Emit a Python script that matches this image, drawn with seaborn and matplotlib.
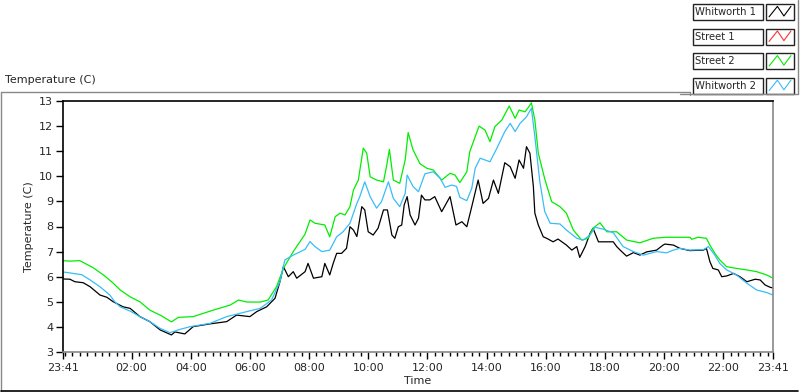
import numpy as np
import pandas as pd
import matplotlib
matplotlib.use("Agg")
import matplotlib.pyplot as plt
from matplotlib.ticker import FixedLocator, FuncFormatter
from matplotlib.patches import Rectangle
import seaborn as sns

# minutes after 23:41 (start of the log) and temperature in C
whit1_min = [0, 14, 24, 41, 55, 75, 89, 102, 122, 136, 156, 176, 197, 220, 227, 247,
             264, 298, 332, 352, 379, 393, 413, 430, 440, 447, 457, 467, 474, 491, 497,
             508, 525, 531, 541, 548, 555, 565, 575, 582, 589, 596, 606, 612, 619, 629,
             639, 650, 658, 667, 673, 680, 687, 692, 698, 704, 714, 721, 727, 734, 744,
             754, 768, 785, 797, 809, 819, 829, 842, 852, 863, 873, 883, 896, 907, 917,
             925, 934, 940, 947, 954, 957, 964, 974, 981, 994, 1004, 1021, 1032, 1042,
             1048, 1059, 1069, 1075, 1086, 1103, 1116, 1123, 1130, 1143, 1157, 1170, 1184,
             1204, 1217, 1221, 1238, 1251, 1271, 1299, 1305, 1312, 1318, 1329, 1336, 1346,
             1360, 1373, 1387, 1404, 1414, 1424, 1434, 1440]
whit1_temp = [5.91, 5.90, 5.80, 5.76, 5.60, 5.27, 5.18, 5.00, 4.80, 4.74, 4.41, 4.21, 3.88,
              3.68, 3.80, 3.72, 4.01, 4.12, 4.21, 4.47, 4.41, 4.61, 4.80, 5.14, 5.80, 6.40,
              6.00, 6.20, 5.94, 6.20, 6.53, 5.94, 6.00, 6.53, 6.07, 6.53, 6.93, 6.93, 7.13,
              7.99, 7.86, 7.60, 8.79, 8.66, 7.79, 7.66, 7.93, 8.66, 8.66, 7.66, 7.53, 7.99,
              8.06, 8.86, 9.19, 8.46, 8.06, 8.33, 9.25, 9.06, 9.06, 9.19, 8.59, 9.19, 8.06,
              8.19, 7.99, 8.79, 9.85, 8.92, 9.12, 9.85, 9.32, 10.54, 10.38, 9.92, 10.65,
              10.32, 11.18, 10.92, 9.59, 8.53, 8.06, 7.59, 7.53, 7.39, 7.50, 7.26, 7.06,
              7.20, 6.77, 7.20, 7.73, 7.93, 7.39, 7.39, 7.39, 7.20, 7.06, 6.82, 6.96, 6.86,
              6.99, 7.06, 7.26, 7.30, 7.26, 7.13, 7.04, 7.06, 7.13, 6.60, 6.33, 6.27, 6.00,
              6.03, 6.13, 6.00, 5.80, 5.90, 5.87, 5.67, 5.58, 5.55]

whit2_min = [0, 38, 55, 75, 95, 105, 116, 136, 156, 176, 197, 217, 237, 258, 298, 332, 373,
             400, 423, 440, 450, 467, 491, 501, 511, 525, 541, 555, 568, 582, 596, 602, 612,
             623, 636, 646, 660, 670, 683, 694, 698, 710, 721, 734, 751, 765, 775, 788, 798,
             805, 819, 829, 836, 846, 866, 880, 896, 907, 917, 927, 940, 950, 957, 967, 977,
             988, 1008, 1021, 1042, 1055, 1069, 1079, 1096, 1116, 1136, 1157, 1177, 1204,
             1224, 1238, 1251, 1271, 1299, 1309, 1322, 1332, 1346, 1366, 1387, 1407, 1427,
             1440]
whit2_temp = [6.19, 6.08, 5.87, 5.60, 5.27, 5.00, 4.80, 4.63, 4.41, 4.21, 3.94, 3.77, 3.90,
              4.01, 4.14, 4.41, 4.61, 4.74, 5.07, 5.80, 6.67, 6.86, 7.09, 7.40, 7.20, 7.00,
              7.06, 7.59, 7.79, 8.13, 8.92, 9.19, 9.78, 9.19, 8.73, 8.99, 9.78, 9.12, 8.79,
              9.32, 10.05, 9.59, 9.39, 10.10, 10.18, 9.92, 9.56, 9.65, 9.60, 9.16, 9.03, 9.52,
              10.32, 10.72, 10.58, 11.12, 11.78, 12.11, 11.78, 12.11, 12.37, 12.71, 11.58,
              9.80, 8.60, 8.13, 8.10, 7.86, 7.53, 7.46, 7.66, 7.97, 7.89, 7.75, 7.20, 7.00,
              6.86, 7.00, 6.95, 7.06, 7.13, 7.06, 7.08, 7.20, 6.86, 6.53, 6.27, 6.07, 5.74,
              5.47, 5.37, 5.27]

street2_min = [0, 14, 34, 61, 82, 102, 116, 136, 156, 176, 197, 220, 234, 264, 305, 339, 356,
               373, 400, 416, 433, 447, 467, 491, 501, 511, 531, 541, 552, 562, 572, 582, 589,
               599, 609, 616, 623, 636, 650, 656, 662, 670, 683, 694, 700, 710, 724, 738, 751,
               768, 785, 795, 805, 819, 825, 836, 844, 856, 866, 876, 890, 905, 917, 925, 937,
               944, 950, 957, 964, 977, 991, 1008, 1021, 1035, 1052, 1065, 1075, 1089, 1103,
               1123, 1143, 1170, 1197, 1221, 1272, 1275, 1288, 1305, 1312, 1322, 1332, 1346,
               1366, 1387, 1407, 1427, 1440]
street2_temp = [6.64, 6.62, 6.64, 6.36, 6.07, 5.74, 5.47, 5.20, 5.00, 4.67, 4.47, 4.20, 4.38,
                4.41, 4.67, 4.87, 5.07, 4.99, 4.99, 5.07, 5.60, 6.33, 7.00, 7.70, 8.26, 8.13,
                8.06, 7.59, 8.39, 8.53, 8.46, 8.79, 9.45, 9.85, 11.12, 10.92, 9.98, 9.85, 9.78,
                10.38, 11.07, 9.85, 9.72, 10.65, 11.74, 11.05, 10.50, 10.32, 10.25, 9.85, 10.12,
                10.05, 9.75, 10.18, 10.98, 11.58, 12.00, 11.84, 11.38, 11.98, 12.24, 12.80,
                12.31, 12.64, 12.57, 12.75, 12.93, 12.24, 10.92, 9.90, 8.99, 8.79, 8.53, 7.86,
                7.46, 7.53, 7.93, 8.15, 7.79, 7.79, 7.46, 7.35, 7.53, 7.57, 7.57, 7.49, 7.57,
                7.53, 7.26, 6.93, 6.67, 6.40, 6.33, 6.27, 6.20, 6.07, 5.94]

legend_names = ["Whitworth 1", "Street 1", "Street 2", "Whitworth 2"]
colors = {"Whitworth 1": "#000000", "Street 1": "#ff3030",
          "Street 2": "#00ee00", "Whitworth 2": "#38bdf8"}

frames = [
    pd.DataFrame({"minutes": whit1_min, "temp": whit1_temp, "sensor": "Whitworth 1"}),
    pd.DataFrame({"minutes": street2_min, "temp": street2_temp, "sensor": "Street 2"}),
    pd.DataFrame({"minutes": whit2_min, "temp": whit2_temp, "sensor": "Whitworth 2"}),
]
df = pd.concat(frames, ignore_index=True)

sns.set_style("white")
plt.rcParams["font.family"] = ["DejaVu Sans"]
plt.rcParams["font.size"] = 8

fig = plt.figure(figsize=(8, 3.92), dpi=100)

# overlay in pixel coordinates for the frame, labels and legend boxes
ov = fig.add_axes([0, 0, 1, 1])
ov.set_xlim(0, 800)
ov.set_ylim(392, 0)
ov.axis("off")
ov.plot([1, 1], [92, 391], color="#888888", lw=1)
ov.plot([1, 690], [92, 92], color="#888888", lw=1)
ov.plot([690, 690], [92, 95], color="#888888", lw=1)
ov.plot([680, 798], [94, 94], color="#888888", lw=1)
ov.plot([798, 798], [0, 94], color="#888888", lw=1)
ov.plot([1, 798], [391, 391], color="#000000", lw=1.2)
ov.text(5, 80, "Temperature (C)", fontsize=8, va="center", ha="left")

zig_x = np.array([0.08, 0.4, 0.65, 0.92])
zig_y = np.array([0.2, 0.85, 0.25, 0.85])
for i, name in enumerate(legend_names):
    top = 4 + i * 24.6
    ov.add_patch(Rectangle((693, top), 70, 16, fill=True, facecolor="white",
                           edgecolor="#222222", lw=1))
    ov.text(695, top + 8, name, fontsize=7.2, va="center", ha="left")
    ov.add_patch(Rectangle((766, top), 28, 16, fill=True, facecolor="white",
                           edgecolor="#222222", lw=1))
    ov.plot(767 + zig_x * 26, top + 16 - zig_y * 16, color=colors[name], lw=0.8)

ax = fig.add_axes([63 / 800, 1 - 352 / 392, 710 / 800, 251 / 392])
sns.lineplot(data=df, x="minutes", y="temp", hue="sensor", palette=colors,
             estimator=None, sort=False, legend=False, lw=0.9, ax=ax)

ax.set_xlim(0, 1440)
ax.set_ylim(3, 13)
ax.set_yticks(range(3, 14))

major = [0] + [139 + 120 * k for k in range(11)] + [1440]
ax.xaxis.set_major_locator(FixedLocator(major))
ax.xaxis.set_minor_locator(FixedLocator(list(range(4, 1441, 15))))


def clock(m, pos=None):
    t = int(round(23 * 60 + 41 + m)) % 1440
    return "%02d:%02d" % (t // 60, t % 60)


ax.xaxis.set_major_formatter(FuncFormatter(clock))
ax.tick_params(axis="x", which="major", direction="out", length=5, width=1,
               color="black", labelsize=8, pad=3, bottom=True)
ax.tick_params(axis="x", which="minor", direction="out", length=3, width=1,
               color="black", bottom=True)
ax.tick_params(axis="y", direction="out", length=5, width=1, color="black",
               labelsize=8, pad=2, left=True)

for side in ["top", "left"]:
    ax.spines[side].set_color("black")
    ax.spines[side].set_linewidth(1.2)
for side in ["right", "bottom"]:
    ax.spines[side].set_color("#888888")
    ax.spines[side].set_linewidth(1.2)

ax.set_xlabel("Time", fontsize=8, labelpad=2)
ax.set_ylabel("Temperature (C)", fontsize=8, labelpad=4)
ax.grid(False)

fig.savefig("out.png", dpi=100)
